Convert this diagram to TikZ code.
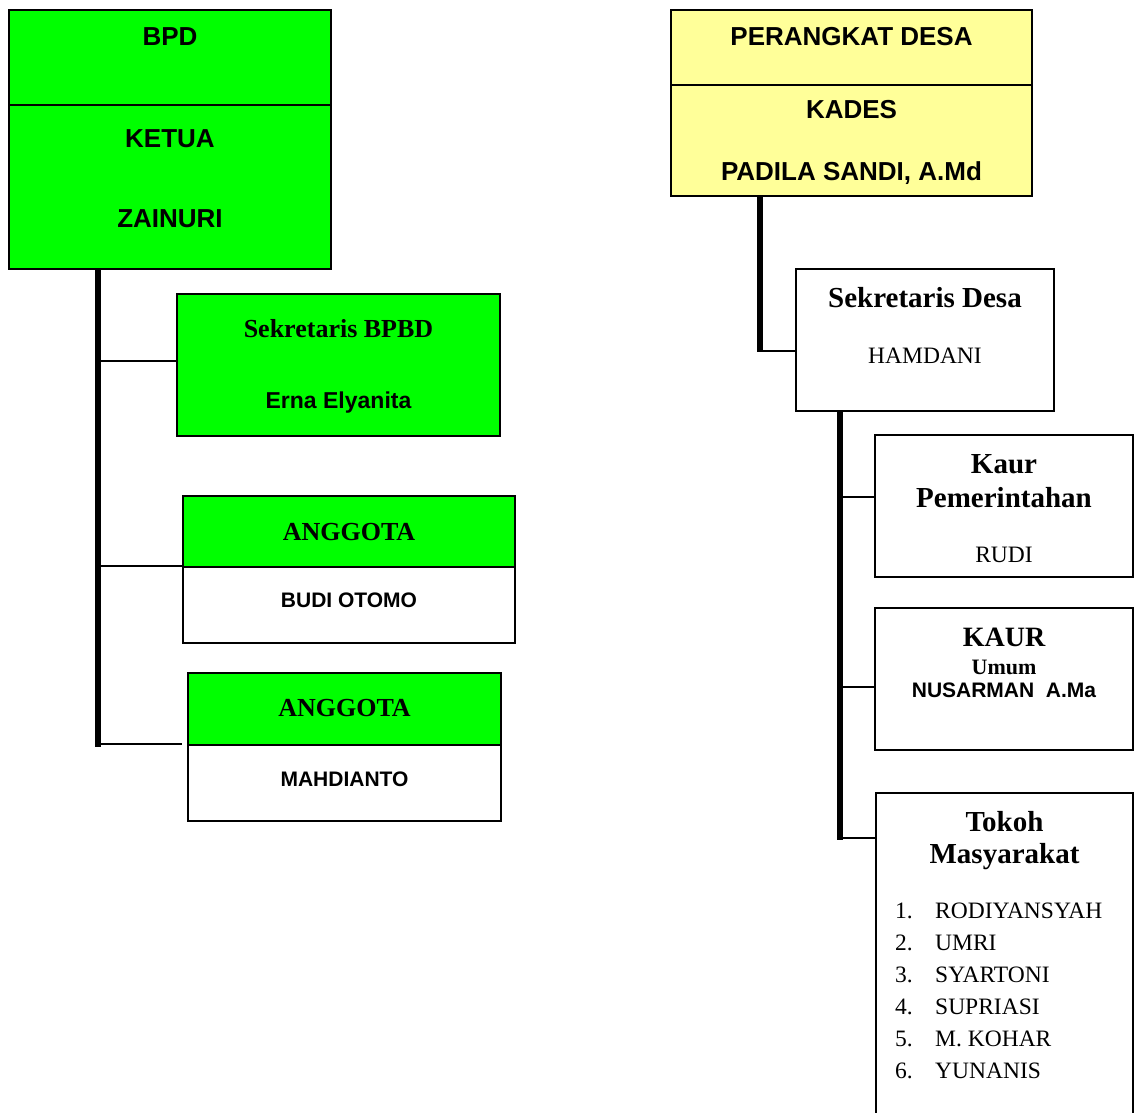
\documentclass[tikz,border=0pt]{standalone}
\usepackage{fontspec}
\setmainfont{Liberation Serif}
\newfontfamily\sansf{Liberation Sans}
\definecolor{boxgreen}{HTML}{00FF00}
\definecolor{boxyellow}{HTML}{FFFF99}
\begin{document}
\begin{tikzpicture}[x=1pt,y=-1pt,
  box/.style={draw=black,line width=1.6pt,inner sep=0pt,rectangle},
  gbox/.style={box,fill=boxgreen},
  ybox/.style={box,fill=boxyellow},
  wbox/.style={box,fill=white},
  trunk/.style={line width=6pt,draw=black},
  branch/.style={line width=2pt,draw=black},
  txt/.style={anchor=base,inner sep=0pt},
  sansbig/.style={txt,font={\sansf\bfseries\fontsize{26}{30}\selectfont}},
  sansmid/.style={txt,font={\sansf\bfseries\fontsize{23}{27}\selectfont}},
  sanssmall/.style={txt,font={\sansf\bfseries\fontsize{21}{25}\selectfont}},
  serifbig/.style={txt,font={\bfseries\fontsize{29}{33}\selectfont}},
  serifhead/.style={txt,font={\bfseries\fontsize{26}{30}\selectfont}},
  serifkaur/.style={txt,font={\bfseries\fontsize{28}{32}\selectfont}},
  serifsmall/.style={txt,font={\bfseries\fontsize{22}{26}\selectfont}},
  serifname/.style={txt,font={\fontsize{23.5}{28}\selectfont}},
  listitem/.style={anchor=base west,inner sep=0pt,font={\fontsize{23.5}{28}\selectfont}}
]
\path[use as bounding box] (0,0) rectangle (1135,1113);
\clip (0,0) rectangle (1135,1113);

% ---------- boxes ----------
\node[gbox,minimum width=322pt,minimum height=95pt] (bpd) at (170,57.5) {};
\node[gbox,minimum width=322pt,minimum height=164pt] (ketua) at (170,187) {};
\node[gbox,minimum width=323pt,minimum height=142pt] (sekb) at (338.5,365) {};
\node[gbox,minimum width=332pt,minimum height=71pt] (ang1h) at (349,531.5) {};
\node[wbox,minimum width=332pt,minimum height=76pt] (ang1b) at (349,605) {};
\node[gbox,minimum width=313pt,minimum height=72pt] (ang2h) at (344.5,709) {};
\node[wbox,minimum width=313pt,minimum height=76pt] (ang2b) at (344.5,783) {};

\node[ybox,minimum width=361pt,minimum height=75pt] (per) at (851.5,47.5) {};
\node[ybox,minimum width=361pt,minimum height=111pt] (kades) at (851.5,140.5) {};
\node[wbox,minimum width=258pt,minimum height=142pt] (sekd) at (925,340) {};
\node[wbox,minimum width=258pt,minimum height=142pt] (kaur1) at (1004,506) {};
\node[wbox,minimum width=258pt,minimum height=142pt] (kaur2) at (1004,679) {};
\node[wbox,minimum width=257pt,minimum height=332pt] (tokoh) at (1004.5,959) {};

% ---------- connectors (left) ----------
\coordinate (lv) at (98,747);
\draw[trunk] (ketua.south -| lv) -- (lv);
\draw[branch] ([yshift=4pt]sekb.west -| lv) -- ([yshift=4pt]sekb.west);
\draw[branch] (ang1b.north west -| lv) -- (ang1b.north west);
\draw[branch] ([xshift=-3pt]ang2b.north west -| lv) -- ([xshift=-5pt]ang2b.north west);

% ---------- connectors (right) ----------
\coordinate (rv1) at (760,351);
\draw[trunk] (kades.south -| rv1) -- ([yshift=-1pt]rv1);
\draw[branch] ([xshift=-3pt]rv1) -- (sekd.west |- rv1);
\coordinate (rv2) at (840,840);
\coordinate (tokohin) at (876,838);
\draw[trunk] (sekd.south -| rv2) -- (rv2);
\draw[branch] ([yshift=9pt]kaur1.west -| rv2) -- ([yshift=9pt]kaur1.west);
\draw[branch] ([yshift=-8pt]kaur2.west -| rv2) -- ([yshift=-8pt]kaur2.west);
\draw[branch] ([xshift=-3pt]tokohin -| rv2) -- (tokohin);

% ---------- texts (left) ----------
\node[sansbig] (tbpd) at (170,46) {BPD};
\node[sansbig] (tketua) at (170,148) {KETUA};
\node[sansbig] (tzain) at (170,227) {ZAINURI};
\node[serifhead] (tsekb) at (338.5,337) {Sekretaris BPBD};
\node[sansmid] (terna) at (338.5,408) {Erna Elyanita};
\node[serifhead] (tang1) at (349,540) {ANGGOTA};
\node[sanssmall] (tbudi) at (349,607) {BUDI OTOMO};
\node[serifhead] (tang2) at (344.5,716) {ANGGOTA};
\node[sanssmall] (tmahd) at (344.5,786) {MAHDIANTO};

% ---------- texts (right) ----------
\node[sansbig] (tper) at (851.5,46) {PERANGKAT DESA};
\node[sansbig] (tkades) at (851.5,119) {KADES};
\node[sansbig] (tpadila) at (851.5,180) {PADILA SANDI, A.Md};
\node[serifbig] (tsekd) at (925,307) {Sekretaris Desa};
\node[serifname] (tham) at (925,363) {HAMDANI};
\node[serifbig] (tkaur) at (1004,473) {Kaur};
\node[serifbig] (tpem) at (1004,507) {Pemerintahan};
\node[serifname] (trudi) at (1004,562) {RUDI};
\node[serifkaur] (tkaur2) at (1004,646) {KAUR};
\node[serifsmall] (tumum) at (1004,674) {Umum};
\node[sanssmall] (tnus) at (1004,697) {NUSARMAN\ \ A.Ma};
\node[serifbig] (ttokoh) at (1004.5,831) {Tokoh};
\node[serifbig] (tmasy) at (1004.5,863) {Masyarakat};
\node[listitem] (l1) at (895,918) {\makebox[40pt][l]{1.}RODIYANSYAH};
\node[listitem] (l2) at (895,950) {\makebox[40pt][l]{2.}UMRI};
\node[listitem] (l3) at (895,982) {\makebox[40pt][l]{3.}SYARTONI};
\node[listitem] (l4) at (895,1014) {\makebox[40pt][l]{4.}SUPRIASI};
\node[listitem] (l5) at (895,1046) {\makebox[40pt][l]{5.}M. KOHAR};
\node[listitem] (l6) at (895,1078) {\makebox[40pt][l]{6.}YUNANIS};
\end{tikzpicture}
\end{document}
